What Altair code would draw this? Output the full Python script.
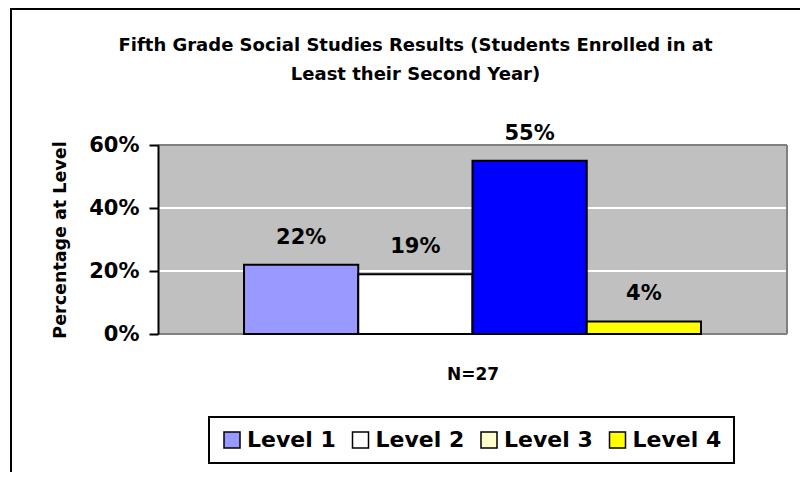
import altair as alt
import pandas as pd

# ---- data ----
levels = ["Level 1", "Level 2", "Level 3", "Level 4"]
values = [0.22, 0.19, 0.55, 0.04]
value_labels = ["22%", "19%", "55%", "4%"]
bar_colors = ["#9999FF", "#FFFFFF", "#0000FF", "#FFFF00"]
legend_colors = ["#9999FF", "#FFFFFF", "#FFFFCC", "#FFFF00"]
y_ticks = [0, 0.2, 0.4, 0.6]
group_label = "N=27"
title_lines = [
    "Fifth Grade Social Studies Results (Students Enrolled in at",
    "Least their Second Year)",
]
y_title = "Percentage at Level"

df = pd.DataFrame(
    {"level": levels, "value": values, "label": value_labels, "bar_color": bar_colors}
)
grid_df = pd.DataFrame({"tick": [t for t in y_ticks if 0 < t < max(y_ticks)]})

FONT = "DejaVu Sans"
W, H = 629, 189
PLOT_BG = "#C0C0C0"
PLOT_EDGE = "#808080"

y_scale = alt.Scale(domain=[0, max(y_ticks)], nice=False, zero=True)

x_enc = alt.X(
    "level:N",
    sort=levels,
    scale=alt.Scale(domain=levels, paddingInner=0, paddingOuter=0.753),
    axis=alt.Axis(
        title=group_label,
        labels=False,
        ticks=False,
        domain=False,
        grid=False,
        titleFont=FONT,
        titleFontSize=17,
        titleFontWeight="bold",
        titleColor="black",
        titlePadding=32,
    ),
)
y_enc = alt.Y(
    "value:Q",
    scale=y_scale,
    axis=alt.Axis(
        values=y_ticks,
        format=".0%",
        title=y_title,
        titleFont=FONT,
        titleFontSize=17.5,
        titleFontWeight="bold",
        titleColor="black",
        titleX=-98,
        titleY=H / 2,
        titleBaseline="middle",
        labelFont=FONT,
        labelFontSize=21,
        labelFontWeight="bold",
        labelColor="black",
        labelPadding=10,
        tickColor="black",
        tickWidth=2,
        tickSize=9,
        domainColor="black",
        domainWidth=2,
        grid=False,
        zindex=1,
    ),
)

# plot-area background and its grey edge (decoration)
bg = alt.Chart(pd.DataFrame({"k": [0]})).mark_rect(fill=PLOT_BG).encode(
    x=alt.value(0), x2=alt.value(W), y=alt.value(0), y2=alt.value(H)
)
edge_top = alt.Chart(pd.DataFrame({"k": [0]})).mark_rule(color=PLOT_EDGE, strokeWidth=2).encode(
    x=alt.value(0), x2=alt.value(W), y=alt.value(0)
)
edge_bottom = alt.Chart(pd.DataFrame({"k": [0]})).mark_rule(color=PLOT_EDGE, strokeWidth=2).encode(
    x=alt.value(0), x2=alt.value(W), y=alt.value(H)
)
edge_right = alt.Chart(pd.DataFrame({"k": [0]})).mark_rule(color=PLOT_EDGE, strokeWidth=2).encode(
    x=alt.value(W), y=alt.value(0), y2=alt.value(H)
)

grid = alt.Chart(grid_df).mark_rule(color="white", strokeWidth=2).encode(
    y=alt.Y("tick:Q", scale=y_scale)
)

bars = (
    alt.Chart(df)
    .mark_bar(stroke="black", strokeWidth=2)
    .encode(x=x_enc, y=y_enc, fill=alt.Fill("bar_color:N", scale=None))
)

texts = (
    alt.Chart(df)
    .mark_text(
        dy=-27, baseline="middle", align="center", font=FONT, fontSize=21,
        fontWeight="bold", color="black",
    )
    .encode(x=alt.X("level:N", sort=levels), y="value:Q", text="label:N")
)

legend_layer = (
    alt.Chart(df)
    .transform_filter("datum.value < 0")
    .mark_square()
    .encode(
        color=alt.Color(
            "level:N",
            scale=alt.Scale(domain=levels, range=legend_colors),
            legend=alt.Legend(
                title=None,
                orient="none",
                legendX=51,
                legendY=272,
                direction="horizontal",
                symbolType="square",
                symbolSize=256,
                symbolStrokeColor="black",
                symbolStrokeWidth=1.5,
                symbolOpacity=1,
                labelFont=FONT,
                labelFontSize=22,
                labelFontWeight="bold",
                labelColor="black",
                labelOffset=4,
                columnPadding=13.5,
                padding=12,
                strokeColor="black",
                fillColor="white",
                labelLimit=300,
            ),
        )
    )
)

# outer chart frame (decoration)
frame_top = alt.Chart(pd.DataFrame({"k": [0]})).mark_rect(fill="black").encode(
    x=alt.value(-148), x2=alt.value(680), y=alt.value(-137), y2=alt.value(-135)
)
frame_left = alt.Chart(pd.DataFrame({"k": [0]})).mark_rect(fill="black").encode(
    x=alt.value(-148), x2=alt.value(-146), y=alt.value(-137), y2=alt.value(345)
)

chart = (
    alt.layer(
        bg, grid, edge_top, edge_right, edge_bottom, bars, texts, legend_layer,
        frame_top, frame_left,
    )
    .properties(
        width=W,
        height=H,
        autosize=alt.AutoSizeParams(type="none"),
        padding={"left": 150, "top": 137, "right": 13, "bottom": 138},
        background="white",
        title=alt.TitleParams(
            text=title_lines,
            font=FONT,
            fontSize=18,
            fontWeight="bold",
            color="black",
            anchor="middle",
            frame="group",
            baseline="top",
            dx=-57,
            offset=0,
            dy=75.5,
            lineHeight=29,
        ),
    )
    .configure_view(strokeWidth=0)
    .configure_legend(strokeWidth=2)
)

chart.save("out.html", embed_options={"renderer": "svg", "actions": False})
